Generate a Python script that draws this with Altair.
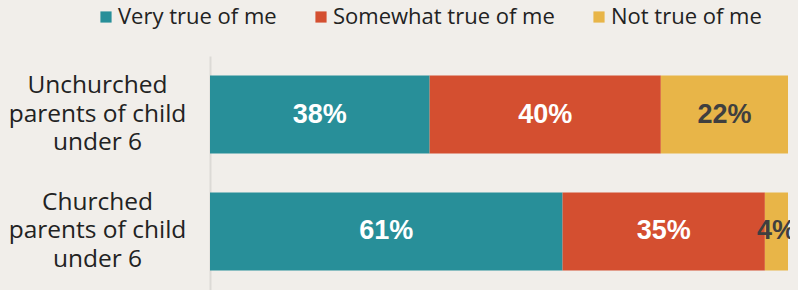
import altair as alt
import pandas as pd

groups = ["Unchurched|parents of child|under 6", "Churched|parents of child|under 6"]
series = ["Very true of me", "Somewhat true of me", "Not true of me"]
unchurched = [38, 40, 22]
churched = [61, 35, 4]
colors = ["#288f99", "#d44f30", "#e8b548"]

rows = []
for g, vals in zip(groups, [unchurched, churched]):
    for i, (s, v) in enumerate(zip(series, vals)):
        rows.append({"group": g, "series": s, "value": v, "ord": i})
df = pd.DataFrame(rows)

base = alt.Chart(df).transform_stack(
    stack="value", groupby=["group"], as_=["x0", "x1"], sort=[alt.SortField("ord", order="ascending")]
).transform_calculate(mid="(datum.x0 + datum.x1) / 2", label="datum.value + '%'")

yenc = alt.Y(
    "group:N", sort=groups, title=None,
    scale=alt.Scale(paddingInner=0.333, paddingOuter=0.1667),
    axis=alt.Axis(
        labelExpr="split(datum.label, '|')", labelAlign="center", labelBaseline="middle",
        labelPadding=113, labelOffset=-28.5, ticks=False, domainColor="#dcdad6", domainWidth=2,
        labelFont="Open Sans", labelFontSize=24.5, labelLineHeight=28.5, labelColor="#222222",
        labelLimit=300,
    ),
)

bars = base.mark_bar().encode(
    x=alt.X("x0:Q", scale=alt.Scale(domain=[0, 100], nice=False), axis=None),
    x2="x1:Q",
    y=yenc,
    color=alt.Color(
        "series:N", scale=alt.Scale(domain=series, range=colors), sort=series,
        legend=alt.Legend(
            title=None, orient="none", direction="horizontal", legendX=-115, legendY=-50,
            symbolType="square", symbolSize=125, symbolStrokeWidth=0, labelFont="Open Sans",
            labelFontSize=22, labelColor="#222222", columnPadding=33, symbolOffset=0,
            labelOffset=1, labelLimit=400,
        ),
    ),
)

text = base.mark_text(font="Liberation Sans", fontWeight="bold", fontSize=27, baseline="middle").encode(
    x=alt.X("mid:Q"),
    y=alt.Y("group:N", sort=groups),
    text="label:N",
    color=alt.condition(alt.datum.series == "Not true of me", alt.value("#3f3f3f"), alt.value("white")),
)

chart = (bars + text).properties(
    width=578, height=234, background="#f1eeea",
    autosize=alt.AutoSizeParams(type="none"),
    padding={"left": 202, "top": 48, "right": 10, "bottom": 0},
).configure_view(stroke=None)

chart.save("out.html", embed_options={"renderer": "svg", "actions": False})

with open("out.html", encoding="utf-8") as f:
    html = f.read()
html = html.replace(
    "<head>",
    "<head><style>html,body{background:#f1eeea;overflow:hidden;} "
    ".vega-embed svg{max-width:none !important;overflow:visible !important;}</style>",
    1,
)
with open("out.html", "w", encoding="utf-8") as f:
    f.write(html)
